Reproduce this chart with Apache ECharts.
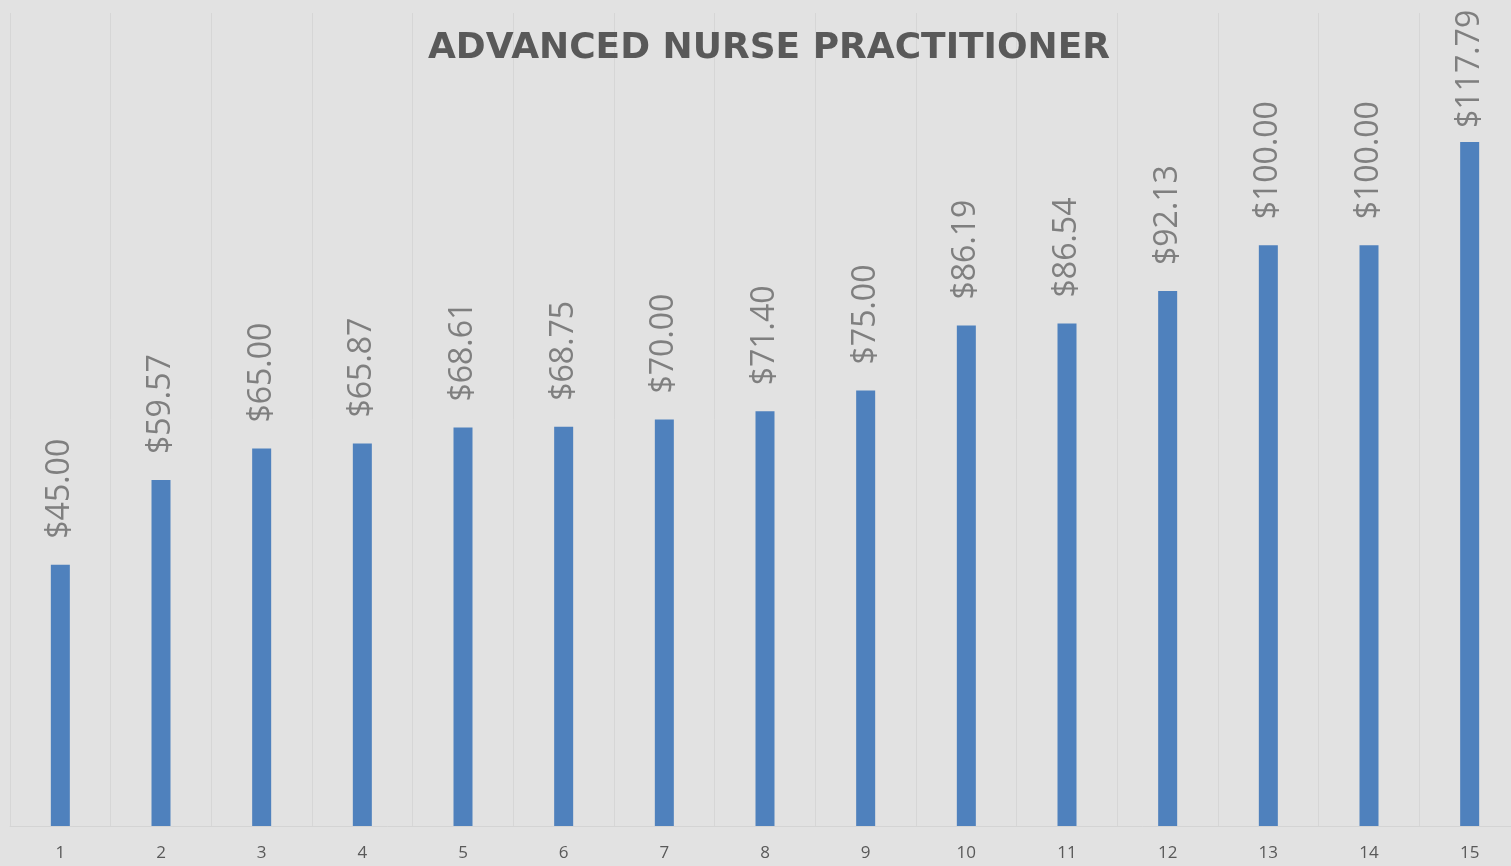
<!DOCTYPE html>
<html><head><meta charset="utf-8">
<script src="https://cdn.jsdelivr.net/npm/echarts@6/dist/echarts.min.js"></script>
<style>html,body{margin:0;padding:0;background:#e2e2e2;overflow:hidden;width:1511px;height:866px;}#c{width:1520px;height:866px;}</style>
</head><body><div id="c"></div>
<script>
const categories = ['1','2','3','4','5','6','7','8','9','10','11','12','13','14','15'];
const values = [45.00, 59.57, 65.00, 65.87, 68.61, 68.75, 70.00, 71.40, 75.00, 86.19, 86.54, 92.13, 100.00, 100.00, 117.79];
const titleText = 'ADVANCED NURSE PRACTITIONER';

const seriesData = values.map((v, i) => i === values.length - 1 ? {value: v, label: {distance: 14}} : v);

const chart = echarts.init(document.getElementById('c'));
chart.setOption({
  backgroundColor: '#e2e2e2',
  animation: false,
  title: {
    text: titleText, left: 764, top: 26, textAlign: 'center',
    textStyle: {fontFamily: 'DejaVu Sans', fontWeight: 'bold', fontSize: 36, color: '#595959'}
  },
  grid: {left: 10, top: 13, right: 0, bottom: 40, containLabel: false},
  xAxis: {
    type: 'category', data: categories,
    axisLine: {show: true, lineStyle: {color: '#d4d4d4', width: 1}},
    axisTick: {show: false},
    splitLine: {show: true, lineStyle: {color: '#d6d6d6', width: 1}},
    axisLabel: {color: '#595959', fontFamily: 'Open Sans', fontSize: 17, margin: 19}
  },
  yAxis: {
    type: 'value', min: 0, max: 140, show: false,
    splitLine: {show: false}
  },
  series: [{
    type: 'bar', data: seriesData, barWidth: 19,
    itemStyle: {color: '#4f81bd'},
    label: {
      show: true, position: 'top', rotate: 90, align: 'left', verticalAlign: 'middle',
      distance: 26, color: '#7f7f7f', fontFamily: 'Open Sans', fontSize: 32,
      formatter: p => '$' + p.value.toFixed(2)
    }
  }]
});
</script></body></html>
